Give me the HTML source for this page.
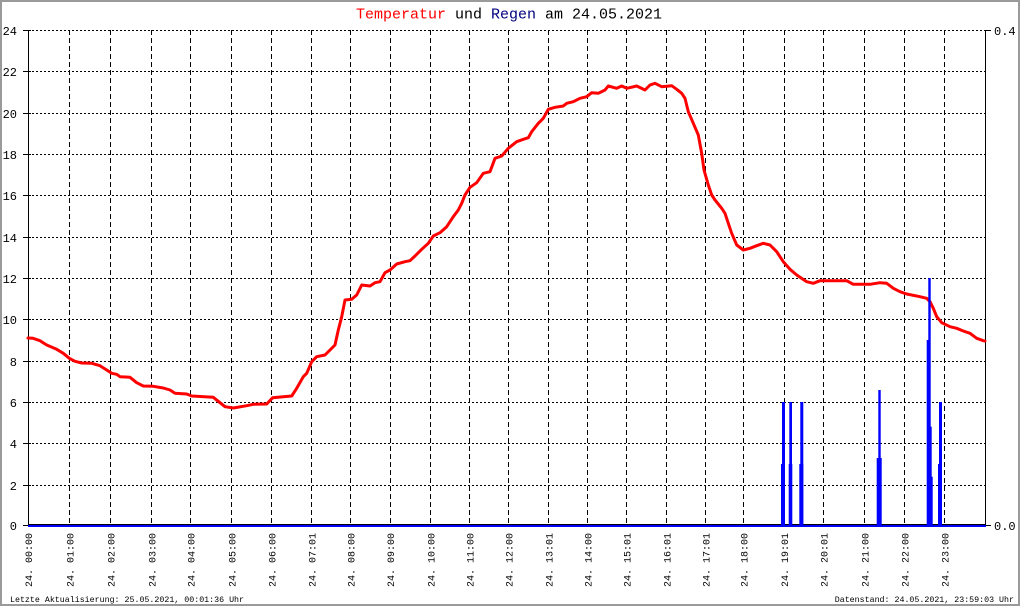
<!DOCTYPE html>
<html>
<head>
<meta charset="utf-8">
<style>
html,body{margin:0;padding:0;background:#fff;}
svg{display:block;}
text{font-family:"Liberation Mono",monospace;}
</style>
</head>
<body>
<svg width="1020" height="606" viewBox="0 0 1020 606" xmlns="http://www.w3.org/2000/svg">
<rect x="0" y="0" width="1020" height="606" fill="#fff"/>
<rect x="1" y="1" width="1018" height="604" fill="none" stroke="#9a9a9a" stroke-width="2"/>

<!-- title -->
<text x="509" y="18.5" font-size="15" text-anchor="middle"><tspan fill="#ff0000">Temperatur</tspan><tspan fill="#000"> und </tspan><tspan fill="#000080">Regen</tspan><tspan fill="#000"> am 24.05.2021</tspan></text>

<!-- horizontal grid -->
<g stroke="#000" stroke-width="1" stroke-dasharray="2,2" fill="none">
<line x1="28" y1="30.5" x2="985" y2="30.5"/>
<line x1="28" y1="71.5" x2="985" y2="71.5"/>
<line x1="28" y1="113.5" x2="985" y2="113.5"/>
<line x1="28" y1="154.5" x2="985" y2="154.5"/>
<line x1="28" y1="195.5" x2="985" y2="195.5"/>
<line x1="28" y1="237.5" x2="985" y2="237.5"/>
<line x1="28" y1="278.5" x2="985" y2="278.5"/>
<line x1="28" y1="319.5" x2="985" y2="319.5"/>
<line x1="28" y1="361.5" x2="985" y2="361.5"/>
<line x1="28" y1="402.5" x2="985" y2="402.5"/>
<line x1="28" y1="443.5" x2="985" y2="443.5"/>
<line x1="28" y1="485.5" x2="985" y2="485.5"/>
</g>

<!-- vertical grid -->
<g stroke="#000" stroke-width="1" stroke-dasharray="5,3" fill="none">
<line x1="69.5" y1="30" x2="69.5" y2="524"/>
<line x1="110.5" y1="30" x2="110.5" y2="524"/>
<line x1="151.5" y1="30" x2="151.5" y2="524"/>
<line x1="190.5" y1="30" x2="190.5" y2="524"/>
<line x1="231.5" y1="30" x2="231.5" y2="524"/>
<line x1="271.5" y1="30" x2="271.5" y2="524"/>
<line x1="311.5" y1="30" x2="311.5" y2="524"/>
<line x1="350.5" y1="30" x2="350.5" y2="524"/>
<line x1="390.5" y1="30" x2="390.5" y2="524"/>
<line x1="430.5" y1="30" x2="430.5" y2="524"/>
<line x1="469.5" y1="30" x2="469.5" y2="524"/>
<line x1="508.5" y1="30" x2="508.5" y2="524"/>
<line x1="548.5" y1="30" x2="548.5" y2="524"/>
<line x1="587.5" y1="30" x2="587.5" y2="524"/>
<line x1="626.5" y1="30" x2="626.5" y2="524"/>
<line x1="666.5" y1="30" x2="666.5" y2="524"/>
<line x1="705.5" y1="30" x2="705.5" y2="524"/>
<line x1="743.5" y1="30" x2="743.5" y2="524"/>
<line x1="784.5" y1="30" x2="784.5" y2="524"/>
<line x1="823.5" y1="30" x2="823.5" y2="524"/>
<line x1="864.5" y1="30" x2="864.5" y2="524"/>
<line x1="904.5" y1="30" x2="904.5" y2="524"/>
<line x1="944.5" y1="30" x2="944.5" y2="524"/>
</g>

<!-- axes -->
<g stroke="#000" stroke-width="1">
<line x1="28.5" y1="30" x2="28.5" y2="526"/>
<line x1="985.5" y1="30" x2="985.5" y2="526"/>
<line x1="28" y1="524.5" x2="986" y2="524.5"/>
<line x1="23" y1="30.5" x2="31" y2="30.5"/>
<line x1="23" y1="71.5" x2="31" y2="71.5"/>
<line x1="23" y1="113.5" x2="31" y2="113.5"/>
<line x1="23" y1="154.5" x2="31" y2="154.5"/>
<line x1="23" y1="195.5" x2="31" y2="195.5"/>
<line x1="23" y1="237.5" x2="31" y2="237.5"/>
<line x1="23" y1="278.5" x2="31" y2="278.5"/>
<line x1="23" y1="319.5" x2="31" y2="319.5"/>
<line x1="23" y1="361.5" x2="31" y2="361.5"/>
<line x1="23" y1="402.5" x2="31" y2="402.5"/>
<line x1="23" y1="443.5" x2="31" y2="443.5"/>
<line x1="23" y1="485.5" x2="31" y2="485.5"/>
<line x1="23" y1="525.5" x2="31" y2="525.5"/>
<line x1="985" y1="30.5" x2="991" y2="30.5"/>
<line x1="985" y1="525.5" x2="991" y2="525.5"/>
</g>
<rect x="28" y="525" width="958" height="2" fill="#0000ff"/>

<!-- left labels -->
<g font-size="12" text-anchor="end" fill="#000">
<text x="17" y="35">24</text>
<text x="17" y="76">22</text>
<text x="17" y="118">20</text>
<text x="17" y="159">18</text>
<text x="17" y="200">16</text>
<text x="17" y="242">14</text>
<text x="17" y="283">12</text>
<text x="17" y="324">10</text>
<text x="17" y="366">8</text>
<text x="17" y="407">6</text>
<text x="17" y="448">4</text>
<text x="17" y="490">2</text>
<text x="17" y="530">0</text>
</g>
<!-- right labels -->
<g font-size="12" fill="#000">
<text x="994" y="35">0.4</text>
<text x="994" y="530">0.0</text>
</g>

<!-- temperature -->
<polyline fill="none" stroke="#ff0000" stroke-width="3" stroke-linejoin="round" stroke-linecap="round" points="28,338 33,338.3 40,340.7 46.7,345 56.7,349.3 63.3,353.3 69.3,358.3 75,361.3 81.7,363 91.7,363.3 100,365.7 106.7,370 111.7,373.3 116.7,374.3 120,376.7 130,377.3 136.7,382.7 143.3,386 153.3,386.3 163.3,388 170,390 175,393.3 186.7,394 191.7,396 213.3,397.3 220,402.7 225,406.7 233.3,408 246.7,405.7 253.3,404.3 266.7,404 272.7,397.7 283.3,396.7 291.7,396 296.7,388.3 303.3,376.7 306.7,373.3 311.7,361.7 316.7,356.7 325,355 330,350 335,345 338.3,330 341.7,316.7 345,300 351.7,299.3 356.7,295 361.7,285 370,286 375,282.7 380,281.7 385,272.7 390,270 396.7,264 405,261.7 410,260.7 415,256 421.7,249.3 428.3,243.3 433.3,236 440,232.7 446.7,226.7 453.3,216.7 458.3,210 461.7,203.3 465,195 470,187.3 476.7,182.7 483.3,173.3 490,171.7 495,158.3 501.7,156 508.3,148.3 516.7,141.7 523.3,139.3 528.3,137.7 531.7,131.7 538.3,123.3 543.3,118.3 548.3,109.3 555,107.3 563.3,106 566.7,103.3 573.3,101.7 580,98.3 586.7,96.7 591.7,92.7 598.3,93.3 605,90 608.3,86 616.7,88.3 621.7,86 626.7,88.3 636.7,86 645,90 650,85 655,83.3 661.7,86.7 671.7,85.7 676.7,89.3 681.7,93.3 685,98.3 688.3,111.7 693.3,123.3 698.3,135 701.7,153.3 704,170 708.3,185 711.7,195 715,200 721.7,208.3 725,213.3 728.3,223.3 731.7,233.3 736.7,245 743.3,250 750,248.3 756.7,245.7 763.3,243.3 770,245 776.7,251.7 783.3,261.7 790,269.3 796.7,275 806.7,281.7 813.3,283.3 820,280.7 846.7,280.7 853.3,284.3 870,284.3 880,282.7 886.7,283.3 893.3,288.3 900,291.7 906.7,294 920,296.7 926.7,298.3 930,301.7 933.3,308.3 936.7,316.7 941.7,322.7 950,326.7 956.7,328.3 963.3,331 970,333.3 976.7,338.3 983.3,340.7 985,341"/>

<!-- rain bars -->
<g fill="#0000ff">
<rect x="781" y="464" width="4" height="62"/>
<rect x="782" y="402" width="3" height="124"/>
<rect x="788.7" y="464" width="3.6" height="62"/>
<rect x="789.3" y="402" width="2.7" height="124"/>
<rect x="799.3" y="464" width="4" height="62"/>
<rect x="800.3" y="402" width="3" height="124"/>
<rect x="876.7" y="458" width="5" height="68"/>
<rect x="878.3" y="390" width="2.4" height="136"/>
<rect x="926.7" y="340" width="1.8" height="186"/>
<rect x="928.3" y="278" width="2.4" height="248"/>
<rect x="930" y="426.7" width="1.7" height="99.3"/>
<rect x="931" y="476.7" width="1.7" height="49.3"/>
<rect x="938" y="464" width="2" height="62"/>
<rect x="939" y="402" width="3" height="124"/>
</g>

<!-- x labels -->
<g font-size="10" fill="#000">
<text transform="translate(32,587) rotate(-90)">24. 00:00</text>
<text transform="translate(73.3,587) rotate(-90)">24. 01:00</text>
<text transform="translate(114.3,587) rotate(-90)">24. 02:00</text>
<text transform="translate(155.7,587) rotate(-90)">24. 03:00</text>
<text transform="translate(194.7,587) rotate(-90)">24. 04:00</text>
<text transform="translate(235.3,587) rotate(-90)">24. 05:00</text>
<text transform="translate(275.7,587) rotate(-90)">24. 06:00</text>
<text transform="translate(315.7,587) rotate(-90)">24. 07:01</text>
<text transform="translate(354.7,587) rotate(-90)">24. 08:00</text>
<text transform="translate(394,587) rotate(-90)">24. 09:00</text>
<text transform="translate(434.3,587) rotate(-90)">24. 10:00</text>
<text transform="translate(473.3,587) rotate(-90)">24. 11:00</text>
<text transform="translate(512.7,587) rotate(-90)">24. 12:00</text>
<text transform="translate(552.3,587) rotate(-90)">24. 13:01</text>
<text transform="translate(591.3,587) rotate(-90)">24. 14:00</text>
<text transform="translate(630.7,587) rotate(-90)">24. 15:01</text>
<text transform="translate(670.7,587) rotate(-90)">24. 16:01</text>
<text transform="translate(709.7,587) rotate(-90)">24. 17:01</text>
<text transform="translate(747.3,587) rotate(-90)">24. 18:00</text>
<text transform="translate(788,587) rotate(-90)">24. 19:01</text>
<text transform="translate(827.3,587) rotate(-90)">24. 20:01</text>
<text transform="translate(868.3,587) rotate(-90)">24. 21:00</text>
<text transform="translate(908.3,587) rotate(-90)">24. 22:00</text>
<text transform="translate(948.3,587) rotate(-90)">24. 23:00</text>
</g>

<!-- footer -->
<g font-size="8.3" fill="#000">
<text x="10" y="602">Letzte Aktualisierung: 25.05.2021, 00:01:36 Uhr</text>
<text x="1014" y="602" text-anchor="end">Datenstand: 24.05.2021, 23:59:03 Uhr</text>
</g>
</svg>
</body>
</html>
